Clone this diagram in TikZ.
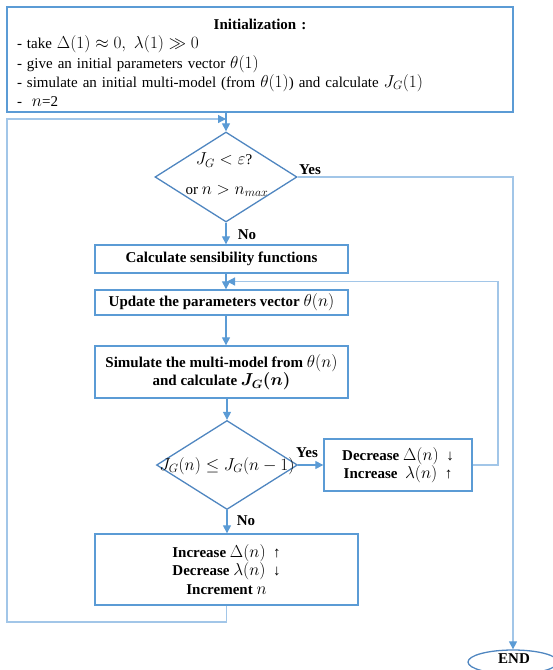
\documentclass[tikz,border=0pt]{standalone}
\usepackage{fontspec}
\setmainfont{Liberation Serif}
\usetikzlibrary{shapes.geometric,arrows.meta,calc}
\DeclareMathSizes{15}{16}{11.5}{9}
\definecolor{boxblue}{HTML}{5B9BD5}
\definecolor{lineblue}{HTML}{A2C6E8}
\definecolor{dblue}{HTML}{4F86C0}
\begin{document}
\begin{tikzpicture}[x=1pt,y=-1pt,
  font=\fontsize{15}{18}\selectfont,
  box/.style={draw=boxblue, line width=1.3pt, rectangle, inner sep=0pt, align=center},
  bbox/.style={box, font=\fontsize{15}{18.5}\selectfont\bfseries},
  dec/.style={draw=dblue, line width=1.3pt, diamond, inner sep=0pt},
  arr/.style={draw=boxblue, line width=1.1pt, -{Triangle[length=8pt,width=8pt]}},
  looparr/.style={draw=lineblue, line width=1.2pt, -{Triangle[length=8pt,width=8pt,color=boxblue]}},
  lbl/.style={font=\fontsize{15}{18}\selectfont\bfseries, inner sep=0pt},
  txt/.style={inner sep=0pt}]
\useasboundingbox (0,0) rectangle (553,670);
\clip (0,0) rectangle (553,670);

% initialization box
\node[box, minimum width=506pt, minimum height=105pt, text width=486pt, align=left,
      font=\fontsize{15}{19.2}\selectfont] (init) at (260,59.5)
  {\rule{0pt}{17pt}\makebox[486pt]{\textbf{Initialization :}}\\
   - take $\Delta(1)\approx 0,\ \lambda(1)\gg 0$\\
   - give an initial parameters vector $\theta(1)$\\
   - simulate an initial multi-model (from $\theta(1)$) and calculate $J_G(1)$\\
   -\ \ $n$=2};

% first decision
\node[dec, minimum width=142pt, minimum height=90pt] (d1) at (226,177) {};
\node[txt] (d1a) at (224,160) {$J_G<\varepsilon$?};
\node[txt] (d1b) at (227,191) {or $n>n_{max}$};

% process boxes
\node[bbox, minimum width=253pt, minimum height=28pt] (calc) at (221.5,259) {Calculate sensibility functions};
\node[bbox, minimum width=253pt, minimum height=25pt] (upd) at (221.5,302.5) {Update the parameters vector $\theta(n)$};
\node[bbox, minimum width=253pt, minimum height=52pt] (sim) at (221.5,372)
  {Simulate the multi-model from $\theta(n)$\\ and calculate {\boldmath$J_G(n)$}};

% second decision
\node[dec, minimum width=141pt, minimum height=89pt] (d2) at (227,465) {};
\node[txt] (d2a) at (227,466) {$J_G(n)\le J_G(n-1)$};

\node[bbox, minimum width=148pt, minimum height=52pt] (decr) at (398,465)
  {Decrease $\Delta(n)$\ \ ↓\\ Increase\ \ $\lambda(n)$\ \ ↑};
\node[bbox, minimum width=263pt, minimum height=71pt] (inc) at (226.5,569.5)
  {Increase $\Delta(n)$\ \ ↑\\ Decrease $\lambda(n)$\ \ ↓\\ Increment $n$};

% end
\node[draw=dblue, line width=1.3pt, ellipse, minimum width=90pt, minimum height=24pt] (end) at (513,662) {};
\node[lbl] (endt) at (514,659) {END};

% labels
\node[lbl] (yes1) at (310,170) {Yes};
\node[lbl] (no1) at (247,235) {No};
\node[lbl] (yes2) at (307,453) {Yes};
\node[lbl] (no2) at (246,521) {No};

% coordinates for loops
\coordinate (j1) at (227,281.5);
\coordinate (j2) at (226,119);
\coordinate (r1) at (498,463);
\coordinate (l1) at (7,622);

% connectors
\draw[arr] (init.south -| d1.north) -- (d1.north);
\draw[arr] (d1.south) -- (d1.south |- calc.north);
\draw[arr] (d1.south |- calc.south) -- (d1.south |- upd.north);
\draw[arr] (d1.south |- upd.south) -- (d1.south |- sim.north);
\draw[arr] (sim.south -| d2.north) -- (d2.north);
\draw[arr] (d2.east) -- (decr.west);
\draw[arr] (d2.south) -- (d2.south |- inc.north);
\draw[looparr] (d1.east) -- (d1.east -| end.north) -- (end.north);
\draw[looparr] (decr.east) -- (decr.east -| r1) -- (r1 |- j1) -- (j1);
\draw[looparr] (inc.south) -- (inc.south |- l1) -- (l1) -- (l1 |- j2) -- (j2);
\end{tikzpicture}
\end{document}
